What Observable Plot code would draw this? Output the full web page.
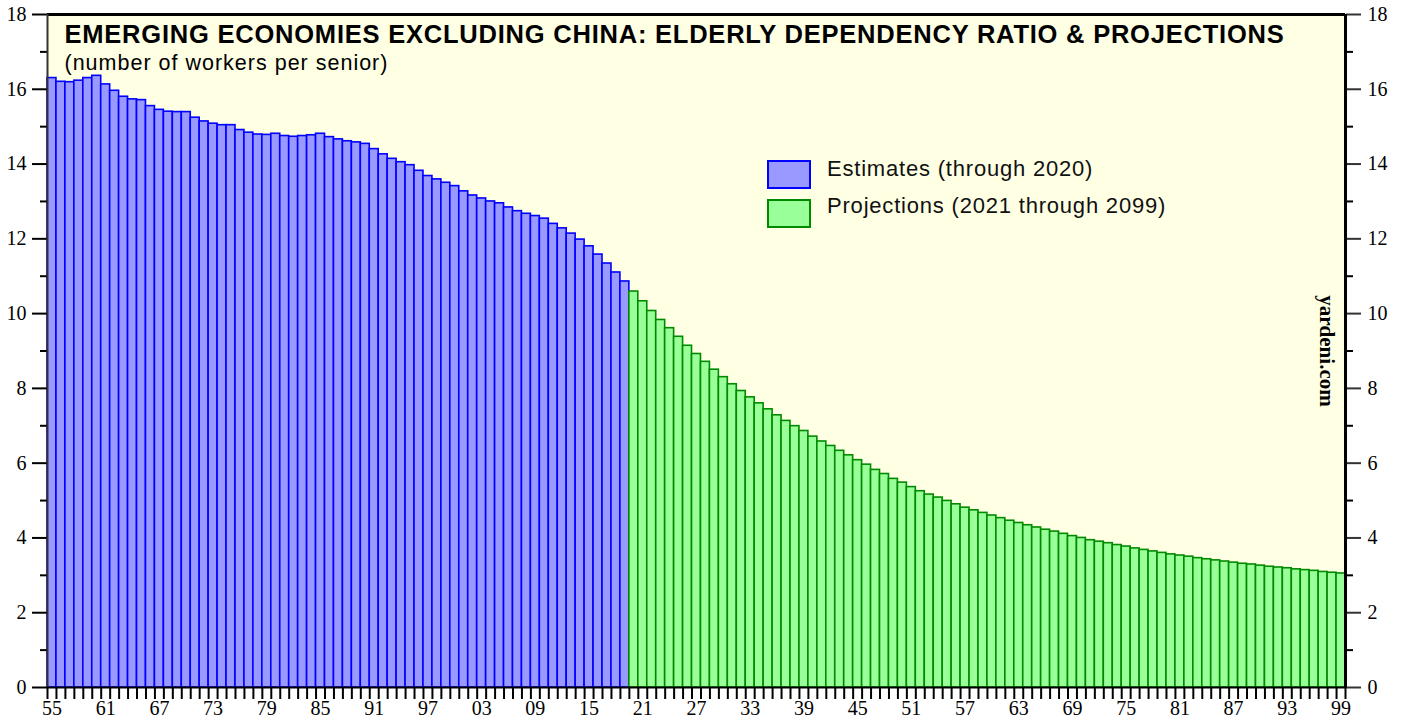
<!DOCTYPE html>
<html>
<head>
<meta charset="utf-8">
<script src="https://cdn.jsdelivr.net/npm/d3@7"></script>
<script src="https://cdn.jsdelivr.net/npm/@observablehq/plot@0.6"></script>
<style>
  html, body { margin: 0; padding: 0; background: #ffffff; }
  #wrap { position: relative; width: 1403px; height: 719px; overflow: hidden; }
  .sw { position: absolute; width: 44px; height: 29px; box-sizing: border-box; border: 2px solid; }
  .lt { position: absolute; font-family: "Liberation Sans", Arial, sans-serif; font-size: 22px; line-height: 22px; letter-spacing: 0.8px; color: #111; white-space: nowrap; }
</style>
</head>
<body>
<div id="wrap"></div>
<script>
// ---- data ----
const firstYear = 1955;
const estimates = [
  16.30,16.20,16.19,16.23,16.30,16.36,16.13,15.96,15.80,15.73,
  15.71,15.55,15.45,15.40,15.39,15.39,15.24,15.14,15.08,15.04,
  15.04,14.91,14.84,14.79,14.78,14.81,14.75,14.73,14.75,14.77,
  14.81,14.72,14.66,14.61,14.58,14.54,14.40,14.26,14.14,14.05,
  13.97,13.82,13.68,13.59,13.50,13.41,13.27,13.16,13.08,13.00,
  12.95,12.84,12.74,12.67,12.61,12.54,12.40,12.28,12.14,11.98,
  11.80,11.58,11.34,11.10,10.86
];
const projections = [
  10.59,10.33,10.07,9.83,9.61,9.38,9.14,8.92,8.71,8.50,
  8.30,8.11,7.93,7.76,7.60,7.44,7.28,7.13,6.99,6.86,
  6.71,6.58,6.46,6.33,6.21,6.08,5.96,5.82,5.71,5.58,
  5.48,5.36,5.25,5.16,5.08,4.99,4.90,4.81,4.74,4.67,
  4.60,4.53,4.46,4.40,4.34,4.28,4.22,4.17,4.11,4.05,
  4.00,3.94,3.90,3.86,3.81,3.77,3.72,3.68,3.64,3.60,
  3.56,3.53,3.50,3.46,3.43,3.40,3.37,3.34,3.31,3.29,
  3.26,3.23,3.21,3.19,3.16,3.14,3.12,3.09,3.07,3.05
];
const labelYears = [1955,1961,1967,1973,1979,1985,1991,1997,2003,2009,2015,2021,2027,2033,2039,2045,2051,2057,2063,2069,2075,2081,2087,2093,2099];
const yMajorTicks = [0,2,4,6,8,10,12,14,16,18];
const yMinorTicks = [1,3,5,7,9,11,13,15,17];
const seriesNames = ["Estimates (through 2020)", "Projections (2021 through 2099)"];
const titleText = "EMERGING ECONOMIES EXCLUDING CHINA: ELDERLY DEPENDENCY RATIO & PROJECTIONS";
const subtitleText = "(number of workers per senior)";
const sourceText = "yardeni.com";

// ---- build table ----
const rows = [];
estimates.forEach((v, i) => rows.push({year: firstYear + i, value: v, series: "est"}));
projections.forEach((v, i) => rows.push({year: firstYear + estimates.length + i, value: v, series: "proj"}));
const lastYear = rows[rows.length - 1].year + 1;
const boundaryYears = rows.map(d => d.year).concat([lastYear]);

const fills = {est: "#9999ff", proj: "#99ff99"};
const strokes = {est: "#0000ff", proj: "#008a00"};

const serif = "'Liberation Serif', 'Times New Roman', serif";
const sans = "'Liberation Sans', Arial, sans-serif";

const chart = Plot.plot({
  width: 1403,
  height: 719,
  marginTop: 14,
  marginBottom: 32,
  marginLeft: 47,
  marginRight: 58,
  x: {type: "linear", domain: [firstYear, lastYear], axis: null, label: null},
  y: {domain: [0, 18], axis: null, label: null},
  style: {background: "#ffffff", fontFamily: serif, color: "#000"},
  marks: [
    Plot.frame({fill: "#ffffe4", stroke: "none"}),
    Plot.rectY(rows, {
      x1: "year",
      x2: d => d.year + 1,
      y: "value",
      fill: d => fills[d.series],
      stroke: d => strokes[d.series],
      strokeWidth: 1.6
    }),
    // title & subtitle
    Plot.text([titleText], {frameAnchor: "top-left", dx: 17, dy: 10.5, lineAnchor: "top", textAnchor: "start",
      fontFamily: sans, fontWeight: "bold", fontSize: 25.5, fill: "#000"}),
    Plot.text([subtitleText], {frameAnchor: "top-left", dx: 17, dy: 40, lineAnchor: "top", textAnchor: "start",
      fontFamily: sans, fontSize: 21.5, fill: "#000"}),
    // source
    Plot.text([sourceText], {frameAnchor: "right", dx: -19, rotate: 90, textAnchor: "middle",
      fontFamily: serif, fontWeight: "bold", fontSize: 21, fill: "#000"}),
    // left y axis
    Plot.axisY({anchor: "left", label: null, ticks: yMajorTicks, tickSize: 15, tickPadding: 6, fontSize: 20, strokeWidth: 2, tickFormat: d => String(d)}),
    Plot.axisY({anchor: "left", label: null, ticks: yMinorTicks, tickSize: 7, tickFormat: () => "", strokeWidth: 2}),
    // right y axis
    Plot.axisY({anchor: "right", label: null, ticks: yMajorTicks, tickSize: 15, tickPadding: 7, fontSize: 20, strokeWidth: 2, stroke: "#333", tickFormat: d => String(d)}),
    Plot.axisY({anchor: "right", label: null, ticks: yMinorTicks, tickSize: 7, tickFormat: () => "", strokeWidth: 2}),
    // x axis ticks (each year boundary) and labels
    Plot.axisX({anchor: "bottom", label: null, ticks: boundaryYears, tickSize: 12, tickFormat: () => "", strokeWidth: 2}),
    Plot.axisX({anchor: "bottom", label: null, ticks: labelYears.map(y => y + 0.5), tickSize: 0, tickPadding: 13, fontSize: 20,
      tickFormat: d => String(Math.floor(d) % 100).padStart(2, "0")}),
    // frame lines
    Plot.ruleY([18], {stroke: "#000", strokeWidth: 3}),
    Plot.ruleX([lastYear], {stroke: "#000", strokeWidth: 3}),
    Plot.ruleX([firstYear], {stroke: "#333", strokeWidth: 2}),
    Plot.ruleY([0], {stroke: "#000", strokeWidth: 2})
  ]
});

// widen the sans texts slightly to match the reference's letter widths
d3.select(chart).selectAll("text").each(function() {
  const t = this.textContent;
  if (t === titleText) this.setAttribute("letter-spacing", "0.78");
  if (t === subtitleText) this.setAttribute("letter-spacing", "1.0");
});

const wrap = document.getElementById("wrap");
wrap.appendChild(chart);

// legend (HTML overlay)
const legendItems = [
  {name: seriesNames[0], fill: fills.est, stroke: strokes.est, top: 160, textTop: 158},
  {name: seriesNames[1], fill: fills.proj, stroke: strokes.proj, top: 199, textTop: 195}
];
legendItems.forEach(it => {
  const sw = document.createElement("div");
  sw.className = "sw";
  sw.style.left = "767px";
  sw.style.top = it.top + "px";
  sw.style.background = it.fill;
  sw.style.borderColor = it.stroke;
  wrap.appendChild(sw);
  const t = document.createElement("div");
  t.className = "lt";
  t.style.left = "827px";
  t.style.top = it.textTop + "px";
  t.textContent = it.name;
  wrap.appendChild(t);
});
</script>
</body>
</html>
